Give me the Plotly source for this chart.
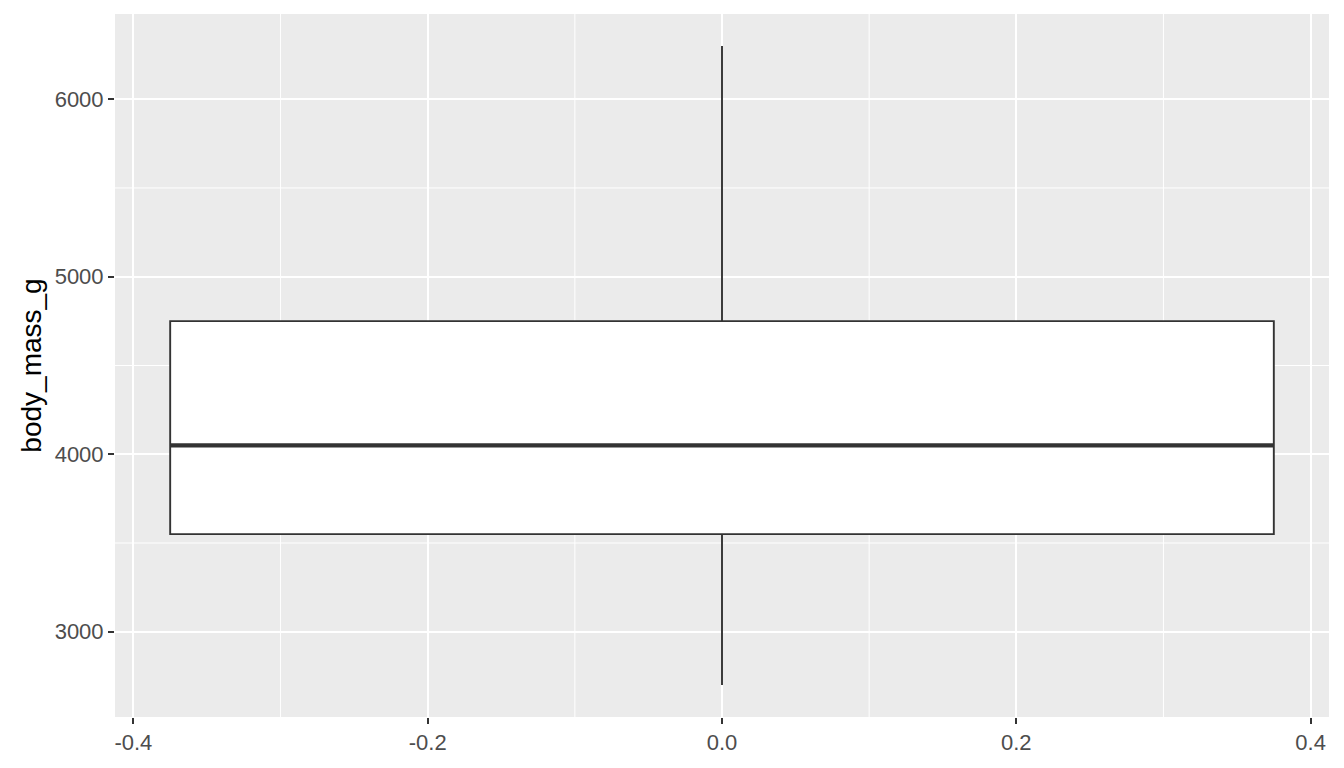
import plotly.graph_objects as go

# Data (penguins body_mass_g summary)
x_pos = [0.0]
lower_fence = [2700]
q1 = [3550]
median = [4050]
q3 = [4750]
upper_fence = [6300]
box_half_width = 0.375

x_ticks = [-0.4, -0.2, 0.0, 0.2, 0.4]
x_tick_labels = ["-0.4", "-0.2", "0.0", "0.2", "0.4"]
y_ticks = [3000, 4000, 5000, 6000]
y_tick_labels = ["3000", "4000", "5000", "6000"]
x_minor = [-0.3, -0.1, 0.1, 0.3]
y_minor = [3500, 4500, 5500]

fig = go.Figure()

fig.add_trace(go.Box(
    x=x_pos, q1=q1, median=median, q3=q3,
    lowerfence=lower_fence, upperfence=upper_fence,
    width=2 * box_half_width, whiskerwidth=0,
    fillcolor="white", line=dict(color="#333333", width=1.9),
    boxpoints=False, hoverinfo="skip", showlegend=False,
))

# thicker median line (ggplot fatten)
fig.add_trace(go.Scatter(
    x=[x_pos[0] - box_half_width, x_pos[0] + box_half_width],
    y=[median[0], median[0]],
    mode="lines", line=dict(color="#333333", width=4.2),
    hoverinfo="skip", showlegend=False,
))

# minor grid lines
for xv in x_minor:
    fig.add_shape(type="line", xref="x", yref="paper", x0=xv, x1=xv, y0=0, y1=1,
                  line=dict(color="white", width=1), layer="below")
for yv in y_minor:
    fig.add_shape(type="line", xref="paper", yref="y", x0=0, x1=1, y0=yv, y1=yv,
                  line=dict(color="white", width=1), layer="below")

# page body has an 8px default margin; compensate
fig.update_layout(
    width=1336, height=760,
    margin=dict(l=107, r=15, t=6, b=51),
    paper_bgcolor="white", plot_bgcolor="#EBEBEB",
    font=dict(family="Liberation Sans, Arial, sans-serif"),
    xaxis=dict(
        range=[-0.4125, 0.4125], tickvals=x_ticks, ticktext=x_tick_labels,
        showgrid=True, gridcolor="white", gridwidth=2, zeroline=False,
        ticks="outside", ticklen=6, tickwidth=2, tickcolor="#333333",
        tickfont=dict(size=22, color="#4D4D4D"), showline=False,
    ),
    yaxis=dict(
        range=[2520, 6480], tickvals=y_ticks, ticktext=y_tick_labels,
        showgrid=True, gridcolor="white", gridwidth=2, zeroline=False,
        ticks="outside", ticklen=6, tickwidth=2, tickcolor="#333333",
        tickfont=dict(size=22, color="#4D4D4D"), showline=False,
        title=dict(text="body_mass_g", font=dict(size=28, color="black"), standoff=4),
    ),
)

fig.write_html("out.html")
